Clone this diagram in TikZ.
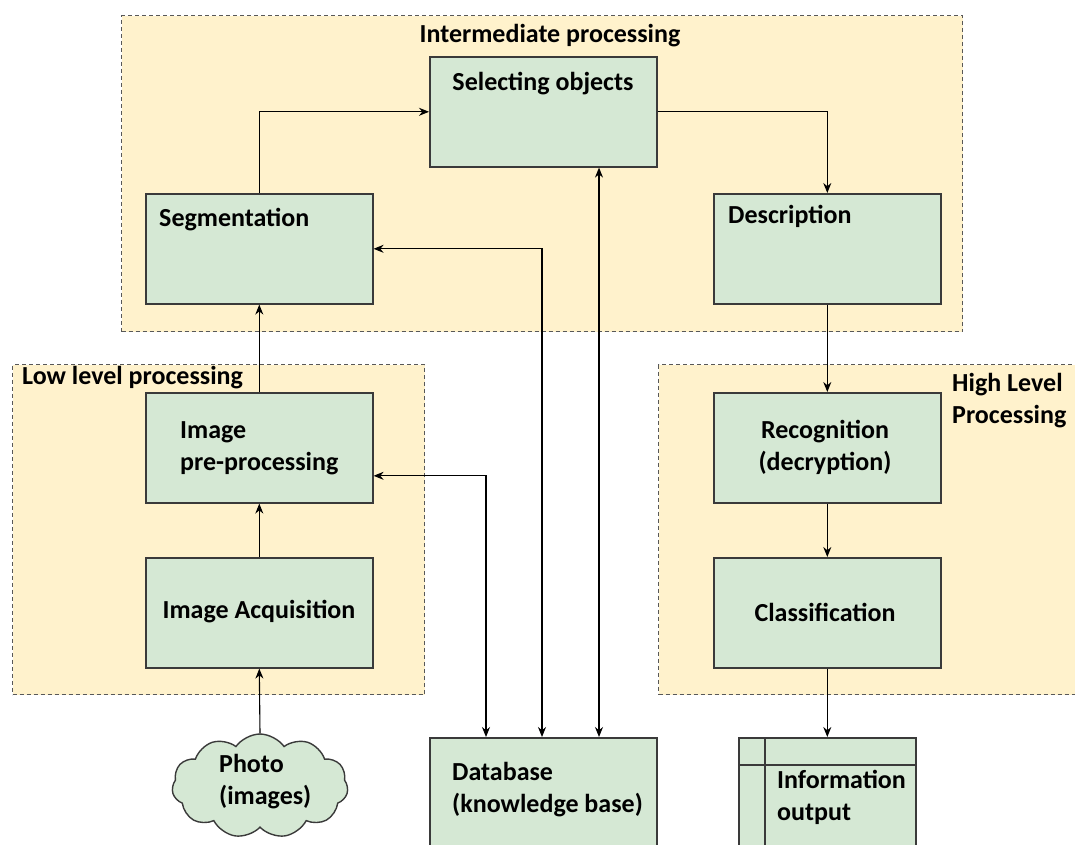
\documentclass[tikz,border=0pt]{standalone}
\usepackage{fontspec}
\setmainfont{Carlito}
\usetikzlibrary{shapes.symbols,arrows.meta}
\definecolor{grpfill}{HTML}{FFF2CC}
\definecolor{boxfill}{HTML}{D5E8D4}
\definecolor{boxline}{HTML}{3A3A3A}
\begin{document}
\begin{tikzpicture}[x=1pt,y=-1pt,
 group/.style={draw=boxline!85, fill=grpfill, dash pattern=on 4pt off 3pt, line width=1.1pt, inner sep=0pt, anchor=north west},
 stage/.style={draw=boxline, fill=boxfill, line width=1.6pt, minimum width=227pt, minimum height=110pt, inner sep=0pt, anchor=north west},
 txt/.style={font=\fontsize{26}{32}\selectfont\bfseries, inner sep=0pt},
 arr/.style={-{Stealth[length=10pt,width=8pt]}, line width=1.1pt},
 darr/.style={{Stealth[length=10pt,width=8pt]}-{Stealth[length=10pt,width=8pt]}, line width=1.1pt}]
\useasboundingbox (0,0) rectangle (1075,844);
\clip (0,0) rectangle (1075,844);
% groups
\node[group, minimum width=841pt, minimum height=316pt] (gmid) at (121,15) {};
\node[group, minimum width=412pt, minimum height=330pt] (glow) at (12,364) {};
\node[group, minimum width=430pt, minimum height=330pt] (ghigh) at (658,364) {};
\node[txt] (tmid) at (550,36) {Intermediate processing};
\node[txt, anchor=west] (tlow) at (22,378) {Low level processing};
\node[txt, anchor=west, align=left] (thigh) at (952,401) {High Level\\Processing};
% stages
\node[stage] (sel) at (429,56) {};
\node[stage] (seg) at (145,193) {};
\node[stage] (desc) at (713,193) {};
\node[stage] (pre) at (145,392) {};
\node[stage] (acq) at (145,557) {};
\node[stage] (rec) at (713,392) {};
\node[stage] (cls) at (713,557) {};
\node[stage] (db) at (429,737) {};
\node[stage, minimum width=177pt, minimum height=130pt] (info) at (738,737) {};
\draw[draw=boxline, line width=1.6pt] ([xshift=27pt]info.north west) -- ([xshift=27pt]info.south west);
\draw[draw=boxline, line width=1.6pt] ([yshift=-28pt]info.north west) -- ([yshift=-28pt]info.north east);
\node[cloud, draw=boxline, fill=boxfill, line width=1.4pt, cloud puffs=11, cloud puff arc=110, aspect=1.6, minimum width=176pt, minimum height=104pt, inner sep=0pt] (photo) at (260,786) {};
% texts
\node[txt] (tsel) at (543,84) {Selecting objects};
\node[txt, anchor=west] (tseg) at (159,220) {Segmentation};
\node[txt, anchor=west] (tdesc) at (728,216) {Description};
\node[txt, anchor=west, align=left] (tpre) at (180,448) {Image\\pre-processing};
\node[txt] (tacq) at (259,612) {Image Acquisition};
\node[txt, align=center] (trec) at (825,447) {Recognition\\(decryption)};
\node[txt] (tcls) at (825,612) {Classification};
\node[txt, anchor=west, align=left] (tdb) at (452,790) {Database\\(knowledge base)};
\node[txt, anchor=west, align=left] (tinfo) at (777,797) {Information\\output};
\node[txt, anchor=west, align=left] (tphoto) at (219,782) {Photo\\(images)};
% connectors
\draw[arr] (photo.north) -- (acq.south);
\draw[arr] (acq.north) -- (pre.south);
\draw[arr] (pre.north) -- (seg.south);
\draw[arr] (seg.north) |- (sel.west);
\draw[arr] (sel.east) -| (desc.north);
\draw[arr] (desc.south) -- (rec.north);
\draw[arr] (rec.south) -- (cls.north);
\draw[arr] (cls.south) -- (info.north);
\draw[darr] ([yshift=-28pt]pre.east) -| ([xshift=57pt]db.north west);
\draw[darr] (seg.east) -| ([xshift=113pt]db.north west);
\draw[darr] ([xshift=170pt]sel.south west) -- ([xshift=170pt]db.north west);
\end{tikzpicture}
\end{document}
